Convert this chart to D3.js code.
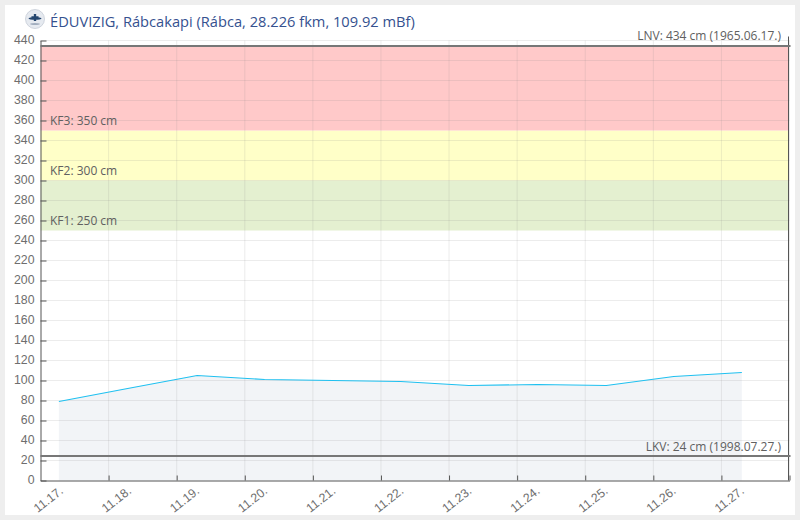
<!DOCTYPE html>
<html><head><meta charset="utf-8">
<script src="https://cdn.jsdelivr.net/npm/d3@7/dist/d3.min.js"></script>
<style>
html,body{margin:0;padding:0;background:#eeeeee;}
svg{display:block;}
text{font-family:"Open Sans",sans-serif;}
</style></head><body><svg id="c" width="800" height="520"></svg>
<script>
const titleText = "ÉDUVIZIG, Rábcakapi (Rábca, 28.226 fkm, 109.92 mBf)";
const dayLabels = ["11.17.","11.18.","11.19.","11.20.","11.21.","11.22.","11.23.","11.24.","11.25.","11.26.","11.27."];
const dayOffsets = [0,1,2,3,4,5,6,7,8,9,10];
const levelTimes = [0.27,1.28,2.3,3.29,4.29,5.29,6.29,7.3,8.31,9.3,10.3];
const levels = [79,92,105,101,100,99,95,96,95,104,108];
const yTicks = [0,20,40,60,80,100,120,140,160,180,200,220,240,260,280,300,320,340,360,380,400,420,440];
const bandEdges = [250,300,350,434];
const bandColors = ["#e4f0d0","#ffffc8","#ffc9c9"];
const bandLabels = ["KF1: 250 cm","KF2: 300 cm","KF3: 350 cm"];
const lnvValue = 434, lkvValue = 24;
const lnvLabel = "LNV: 434 cm (1965.06.17.)";
const lkvLabel = "LKV: 24 cm (1998.07.27.)";

const svg = d3.select("#c");
svg.append("rect").attr("x",5).attr("y",5).attr("width",790).attr("height",510).attr("fill","#fff");

const L=40.5,R=789.5,T=40.5,B=480.5;
const x = d3.scaleLinear().domain([0,11]).range([L,R]);
const y = d3.scaleLinear().domain([0,440]).range([B,T]);

bandColors.forEach((c,i)=>{
  svg.append("rect").attr("x",L).attr("width",788.5-L)
    .attr("y",y(bandEdges[i+1])).attr("height",y(bandEdges[i])-y(bandEdges[i+1])).attr("fill",c);
});

const pts = levelTimes.map((t,i)=>[t,levels[i]]);
svg.append("path").datum(pts).attr("fill","#5c6f9c").attr("fill-opacity",0.08)
  .attr("d",d3.area().x(d=>x(d[0])).y0(y(0)).y1(d=>y(d[1])));

const grid = svg.append("g").attr("stroke","#8a8a8a").attr("stroke-opacity",0.16).attr("stroke-width",1);
yTicks.slice(1).forEach(v=>grid.append("line").attr("x1",L).attr("x2",R).attr("y1",y(v)).attr("y2",y(v)));
dayOffsets.slice(1).concat([11]).forEach(v=>grid.append("line").attr("x1",x(v)).attr("x2",x(v)).attr("y1",T).attr("y2",B));

svg.append("path").datum(pts).attr("fill","none").attr("stroke","#1fc0f0").attr("stroke-width",1.1)
  .attr("d",d3.line().x(d=>x(d[0])).y(d=>y(d[1])));

const yAxis = d3.axisLeft(y).tickValues(yTicks).tickSize(5).tickPadding(3).tickSizeOuter(0);
const gy = svg.append("g").attr("transform",`translate(${L},0)`).call(yAxis);
gy.selectAll("text").attr("fill","#6e6e6e").style("font-size","12.3px").style("font-family",'"Liberation Sans",sans-serif');
gy.selectAll("line,path").attr("stroke","#555");
gy.selectAll(".tick line").attr("x2",6);
gy.selectAll(".tick text").attr("x",-6).attr("y",-0.5);

const xAxis = d3.axisBottom(x).tickValues(dayOffsets.slice(1).concat([11])).tickFormat(()=>"").tickSize(-5).tickSizeOuter(0);
const gx = svg.append("g").attr("transform",`translate(0,${B})`).call(xAxis);
gx.selectAll("line,path").attr("stroke","#555");
svg.append("line").attr("x1",788.5).attr("x2",788.5).attr("y1",T-4).attr("y2",B).attr("stroke","#555");

dayLabels.forEach((t,i)=>{
  const px = x(dayOffsets[i])+23.5;
  svg.append("text").text(t).attr("text-anchor","end")
    .attr("transform",`translate(${px},492.5) rotate(-38)`)
    .attr("fill","#6e6e6e").style("font-size","12.3px").style("font-family",'"Liberation Sans",sans-serif');
});

[lnvValue,lkvValue].forEach(v=>svg.append("line").attr("x1",L).attr("x2",790.5).attr("y1",y(v)-0.5).attr("y2",y(v)-0.5)
  .attr("stroke","#777").attr("stroke-width",2));

const lab = (t,px,py,anchor)=>svg.append("text").text(t).attr("x",px).attr("y",py).attr("text-anchor",anchor)
  .attr("fill","#606060").style("font-size","12px");
bandLabels.forEach((t,i)=>lab(t,50,y(bandEdges[i])-6,"start"));
lab(lnvLabel,781,40,"end");
lab(lkvLabel,781,451,"end");

svg.append("text").text(titleText).attr("x",50).attr("y",26.5).attr("fill","#35518f").style("font-size","14.65px");

const logo = svg.append("g").attr("transform","translate(35,19)");
logo.append("circle").attr("r",9.5).attr("fill","#e6eaf0").attr("stroke","#c5ccd6").attr("stroke-width",0.8);
logo.append("path").attr("d",d3.symbol(d3.symbolCross,28)()).attr("fill","#24466f").attr("transform","translate(0,-1.5)");
logo.append("ellipse").attr("rx",6.5).attr("ry",1.3).attr("cy",-0.5).attr("fill","#24466f");
logo.append("ellipse").attr("rx",5).attr("ry",0.8).attr("cy",5).attr("fill","#8c9aae");
</script></body></html>
